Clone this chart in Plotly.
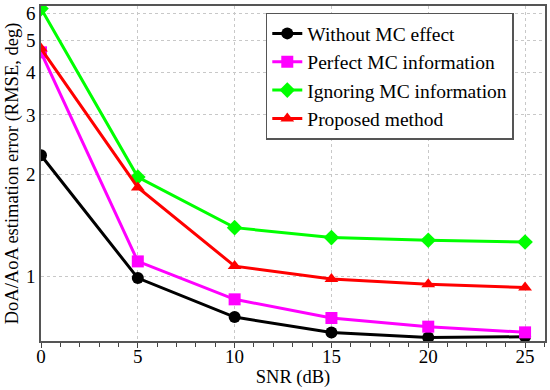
import plotly.graph_objects as go
import math

snr = [0, 5, 10, 15, 20, 25]
without_mc = [2.28, 0.986, 0.756, 0.68, 0.657, 0.661]
perfect_mc = [4.6, 1.105, 0.853, 0.751, 0.708, 0.681]
ignoring_mc = [6.2, 1.965, 1.391, 1.300, 1.276, 1.261]
proposed = [4.72, 1.83, 1.07, 0.98, 0.945, 0.924]

names = ["Without MC effect", "Perfect MC information", "Ignoring MC information", "Proposed method"]
series = [without_mc, perfect_mc, ignoring_mc, proposed]
colors = ["#000000", "#ff00ff", "#00ff00", "#ff0000"]
symbols = ["circle", "square", "diamond", "triangle-up"]

y_ticks = [1, 2, 3, 4, 5, 6]
x_ticks = [0, 5, 10, 15, 20, 25]

fig = go.Figure()
for n, s, c, m in zip(names, series, colors, symbols):
    fig.add_trace(go.Scatter(x=snr, y=s, name=n, mode="lines+markers",
                             line=dict(color=c, width=3),
                             marker=dict(color=c, symbol=m, size=12)))

font = "Liberation Serif"
fig.update_layout(
    width=550, height=390,
    margin=dict(l=41, r=5, t=6, b=49, autoexpand=False),
    paper_bgcolor="white", plot_bgcolor="white",
    font=dict(family=font, size=18, color="black"),
    legend=dict(x=0.446, y=0.98, xanchor="left", yanchor="top",
                bgcolor="white", bordercolor="#555555", borderwidth=1.5,
                font=dict(family=font, size=19.5), tracegroupgap=0,
                itemwidth=30),
    showlegend=True,
)
fig.update_xaxes(range=[0, 26.03], tickvals=x_ticks, ticks="outside", ticklen=5,
                 tickcolor="#444", showline=True, linecolor="#555", linewidth=1.5,
                 mirror=True, showgrid=True, gridcolor="#c8c8c8", griddash="dot",
                 zeroline=False, automargin=False, ticklabelstandoff=-8,
                 minor=dict(dtick=1, ticks="outside", ticklen=4, tickcolor="#444", showgrid=False),
                 title=dict(text="SNR (dB)", standoff=0, font=dict(size=18.5)),
                 tickfont=dict(size=19))
fig.update_yaxes(type="log", range=[math.log10(0.642), math.log10(6.31)],
                 tickvals=y_ticks, ticktext=[str(v) for v in y_ticks],
                 ticks="", showline=True, linecolor="#555", linewidth=1.5, mirror=True,
                 showgrid=True, gridcolor="#c8c8c8", griddash="dot", zeroline=False,
                 automargin=False,
                 title=dict(text="DoA/AoA estimation error (RMSE, deg)", standoff=2, font=dict(size=18.5)),
                 tickfont=dict(size=19))

fig.write_html("out.html", config={"displayModeBar": False},
               post_script="document.body.style.margin='0';")
